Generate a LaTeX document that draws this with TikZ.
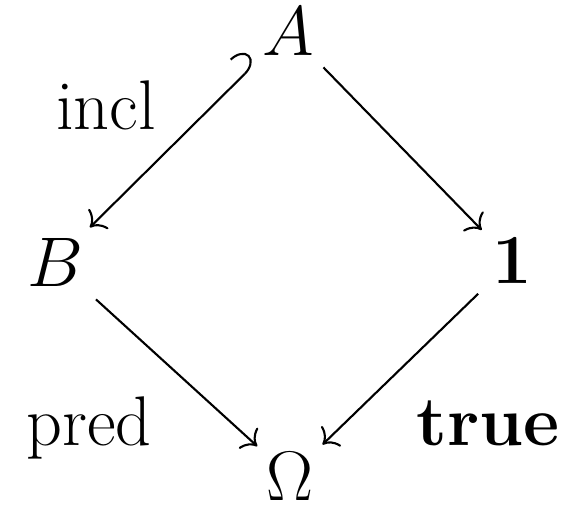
\RequirePackage{fix-cm}
\documentclass[tikz,border=0pt]{standalone}
\usepackage{amsmath,amssymb}
\usepackage{tikz}
\usetikzlibrary{arrows.meta,calc,positioning}

\begin{document}
\begin{tikzpicture}[x=0.03cm, y=-0.03cm, >={To[length=11pt,width=24pt]}, font=\fontsize{60}{72}\selectfont]
  \tikzset{obj/.style={inner sep=2pt, outer sep=0pt},
           lbl/.style={anchor=base, inner sep=0pt},
           map/.style={->, line width=1.8pt}}
  \useasboundingbox (0,0) rectangle (564,511);
  \node[obj] (A) at (288,31) {$A$};
  \node[obj] (B) at (55,262) {$B$};
  \node[obj] (one) at (512,261) {$\mathbf{1}$};
  \node[obj] (om) at (290,476) {$\Omega$};
  \node[lbl] (incl) at (106,130) {incl};
  \node[lbl] (pred) at (89,445) {pred};
  \node[lbl] (true) at (488,445) {\textbf{true}};
  \draw[map, {Hooks[left,length=14pt,width=36pt]}->, shorten <=6pt, shorten >=10pt] (A) -- (B);
  \draw[map, shorten <=12pt, shorten >=10pt] (A) -- (one);
  \draw[map, shorten <=14pt, shorten >=8pt] (B) -- (om);
  \draw[map, shorten <=14pt, shorten >=8pt] (one) -- (om);
\end{tikzpicture}
\end{document}
